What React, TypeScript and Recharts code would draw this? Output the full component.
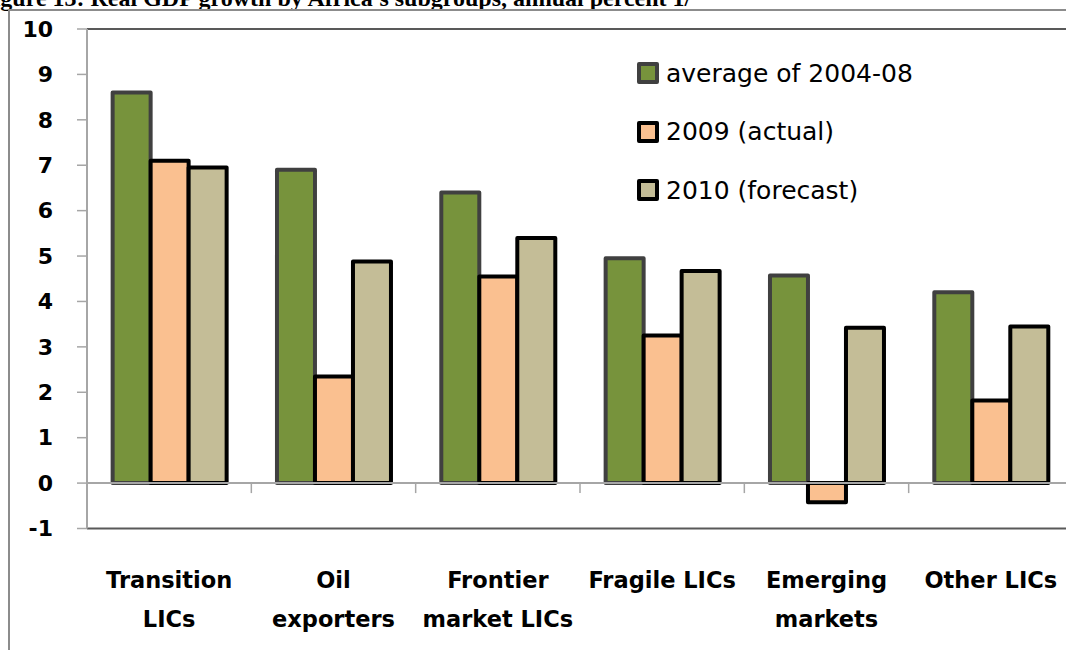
import React from "react"
import { BarChart, Bar, XAxis, YAxis, ReferenceLine, Legend } from "recharts"

// categories and values (annual percent)
const categories = [
  "Transition\nLICs",
  "Oil\nexporters",
  "Frontier\nmarket LICs",
  "Fragile LICs",
  "Emerging\nmarkets",
  "Other LICs",
]
const seriesNames = ["average of 2004-08", "2009 (actual)", "2010 (forecast)"]
const avg0408 = [8.6, 6.9, 6.4, 4.95, 4.57, 4.2]
const actual2009 = [7.1, 2.35, 4.55, 3.25, -0.42, 1.82]
const forecast2010 = [6.95, 4.88, 5.4, 4.67, 3.42, 3.45]
const yTicks = [-1, 0, 1, 2, 3, 4, 5, 6, 7, 8, 9, 10]

const data = categories.map((name, i) => ({
  name,
  avg: avg0408[i],
  actual: actual2009[i],
  forecast: forecast2010[i],
}))

const FONT = "'DejaVu Sans', 'Liberation Sans', sans-serif"

// two-line category labels under the plot
const CategoryTick = ({ x, y, payload }: any) => {
  const lines = String(payload.value).split("\n")
  return (
    <text
      x={x}
      y={y}
      textAnchor="middle"
      fontFamily={FONT}
      fontWeight="bold"
      fontSize={22.5}
      fill="#000"
    >
      {lines.map((l, i) => (
        <tspan key={i} x={x} dy={i === 0 ? 51 : 39}>
          {l}
        </tspan>
      ))}
    </text>
  )
}

// zero line with Excel-style tick marks at the category boundaries
const ZeroLine = (props: any) => {
  const { x1, x2, y1 } = props
  const step = (x2 - x1) / categories.length
  const marks = categories.map((_, i) => x1 + step * (i + 1))
  return (
    <g>
      <line x1={x1} x2={x2} y1={y1} y2={y1} stroke="#a6a6a6" strokeWidth={2} />
      {marks.map((mx, i) => (
        <line key={i} x1={mx} x2={mx} y1={y1} y2={y1 + 10} stroke="#a6a6a6" strokeWidth={1.5} />
      ))}
    </g>
  )
}

// legend keeps the series order (recharts sorts by name otherwise)
const LegendBox = ({ payload }: any) => {
  const items = [...payload].sort(
    (a: any, b: any) => seriesNames.indexOf(a.value) - seriesNames.indexOf(b.value)
  )
  return (
    <div style={{ fontFamily: FONT, fontSize: 25, color: "#000" }}>
      {items.map((p: any, i: number) => (
        <div key={i} style={{ display: "flex", alignItems: "center", height: 58.5 }}>
          <span
            style={{
              display: "inline-block",
              width: 14,
              height: 14,
              background: p.payload.fill,
              border: `4px solid ${p.payload.stroke}`,
              borderRadius: 2,
              marginRight: 7,
            }}
          />
          {p.value}
        </div>
      ))}
    </div>
  )
}

export default function App() {
  return (
    <div
      style={{
        position: "fixed",
        left: 0,
        top: 0,
        width: 1066,
        height: 650,
        overflow: "hidden",
        background: "#fff",
      }}
    >
      <div
        style={{
          position: "absolute",
          left: -21,
          top: -14,
          fontFamily: "'Liberation Serif', serif",
          fontWeight: "bold",
          fontSize: 24,
          lineHeight: "24px",
          whiteSpace: "nowrap",
        }}
      >
        Figure 13: Real GDP growth by Africa's subgroups, annual percent 1/
      </div>
      <div
        style={{
          position: "absolute",
          left: 8,
          top: 9,
          width: 1100,
          height: 700,
          borderLeft: "2px solid #8c8c8c",
          borderTop: "2px solid #8c8c8c",
        }}
      />
      <div style={{ position: "absolute", left: 0, top: 0 }}>
        <BarChart
          width={1100}
          height={650}
          data={data}
          margin={{ top: 29, right: 27, left: 0, bottom: 0 }}
          barCategoryGap="15.6%"
          barGap={0}
        >
          <XAxis
            dataKey="name"
            axisLine={false}
            tickLine={false}
            height={121.5}
            interval={0}
            tick={<CategoryTick />}
          />
          <YAxis
            width={87}
            domain={[-1, 10]}
            ticks={yTicks}
            interval={0}
            allowDataOverflow
            axisLine={{ stroke: "#a6a6a6", strokeWidth: 2 }}
            tickLine={{ stroke: "#a6a6a6", strokeWidth: 1.5 }}
            tickSize={10}
            tickMargin={24}
            tick={{ fontFamily: FONT, fontWeight: "bold", fontSize: 22, fill: "#000" }}
          />
          <ReferenceLine y={10} stroke="#595959" strokeWidth={2} />
          <ReferenceLine y={-1} stroke="#595959" strokeWidth={2} />
          <ReferenceLine y={0} shape={<ZeroLine />} />
          <Legend
            layout="vertical"
            align="center"
            verticalAlign="middle"
            content={<LegendBox />}
            wrapperStyle={{ left: 637, top: 44, width: 320 }}
          />
          <Bar
            dataKey="avg"
            name={seriesNames[0]}
            fill="#77933c"
            stroke="#404040"
            strokeWidth={4}
            strokeLinejoin="round"
            isAnimationActive={false}
          />
          <Bar
            dataKey="actual"
            name={seriesNames[1]}
            fill="#fac090"
            stroke="#000"
            strokeWidth={4}
            strokeLinejoin="round"
            isAnimationActive={false}
          />
          <Bar
            dataKey="forecast"
            name={seriesNames[2]}
            fill="#c4bd97"
            stroke="#000"
            strokeWidth={4}
            strokeLinejoin="round"
            isAnimationActive={false}
          />
        </BarChart>
      </div>
    </div>
  )
}
